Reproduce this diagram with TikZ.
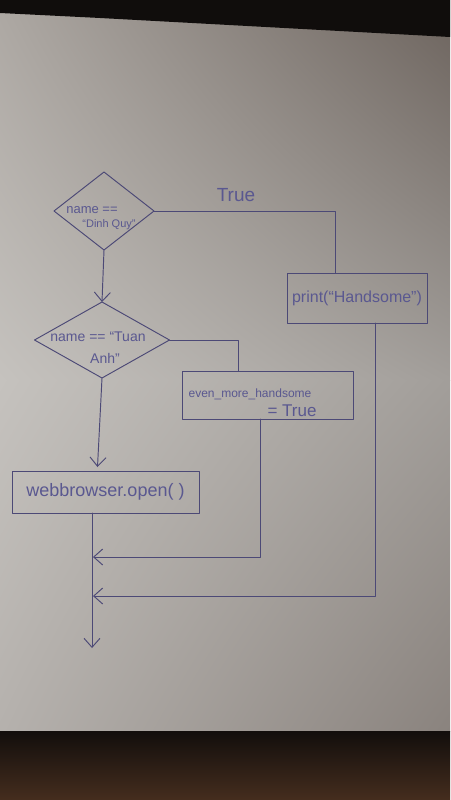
\documentclass[tikz,border=0pt]{standalone}
\usepackage{fontspec}
\setmainfont{Liberation Sans}
\usetikzlibrary{shapes.geometric,arrows.meta,shadings}
\definecolor{ink}{HTML}{4C4976}
\definecolor{tink}{HTML}{5A5890}
\definecolor{pul}{HTML}{ACA7A2}
\definecolor{pur}{HTML}{6C635D}
\definecolor{pml}{HTML}{C5C2BE}
\definecolor{pmr}{HTML}{A29E9A}
\definecolor{pll}{HTML}{B5B1AD}
\definecolor{plr}{HTML}{8A837E}
\definecolor{tabtop}{HTML}{120E0C}
\definecolor{tabmid}{HTML}{2A1B12}
\definecolor{tabbot}{HTML}{452D1E}
\definecolor{shadow}{HTML}{100D0C}
\begin{document}
\begin{tikzpicture}[x=1pt,y=-1pt,
  line/.style={draw=ink, line width=0.95pt, line cap=round, line join=round},
  arr/.style={line, -{Straight Barb[length=9pt,width=16pt,line width=0.95pt]}},
  decn/.style={line, shape=diamond, inner sep=0pt, outer sep=0pt},
  boxn/.style={line, rectangle, inner sep=0pt, outer sep=0pt},
  txt/.style={text=tink, inner sep=0pt}]
\useasboundingbox (0,0) rectangle (450,800);
% paper
\shade[upper left=pul, upper right=pur, lower left=pml, lower right=pmr] (0,0) rectangle (450,380);
\shade[upper left=pml, upper right=pmr, lower left=pll, lower right=plr] (0,380) rectangle (450,731);
\fill[shadow] (0,0) -- (450,0) -- (450,37) -- (100,18) -- (0,13) -- cycle;
% table
\shade[top color=tabtop, middle color=tabmid, bottom color=tabbot] (0,731) rectangle (450,800);

% decisions
\node[decn, minimum width=100pt, minimum height=78pt] (d1) at (104,211) {};
\node[decn, minimum width=135pt, minimum height=76pt] (d2) at (102,340) {};
% process boxes
\node[boxn, minimum width=140pt, minimum height=50pt] (pr) at (357,298) {};
\node[boxn, minimum width=171pt, minimum height=48pt] (ev) at (267.5,395) {};
\node[boxn, minimum width=187pt, minimum height=42pt] (wb) at (105.5,492) {};

% texts
\node[txt, font=\fontsize{13}{15}\selectfont] (d1t1) at (92,210) {name ==};
\node[txt, font=\fontsize{11}{13}\selectfont] (d1t2) at (109,225) {“Dinh Quy”};
\node[txt, font=\fontsize{14}{16}\selectfont] (d2t1) at (98,337) {name == “Tuan};
\node[txt, font=\fontsize{14}{16}\selectfont] (d2t2) at (105,358) {Anh”};
\node[txt, font=\fontsize{16}{18}\selectfont] (prt) at (pr.center) {print(“Handsome”)};
\node[txt, font=\fontsize{12}{14}\selectfont] (evt1) at (250,394) {even\_more\_handsome};
\node[txt, font=\fontsize{17}{19}\selectfont] (evt2) at (292,411) {= True};
\node[txt, font=\fontsize{18}{20}\selectfont] (wbt) at (wb.center) {webbrowser.open( )};
\node[txt, font=\fontsize{19}{21}\selectfont] (truel) at (236,195) {True};

% connector points
\coordinate (m1) at (93,557);
\coordinate (m2) at (93,596);
\coordinate (endc) at (92,648);

% connectors
\draw[line] (d1.east) -| ([xshift=-22pt]pr.north);
\draw[arr] (d1.south) -- (d2.north);
\draw[line] (d2.east) -| ([xshift=-29.5pt]ev.north);
\draw[arr] (d2.south) -- ([xshift=-8pt,yshift=4pt]wb.north);
\draw[arr] ([xshift=-13.5pt]wb.south) -- (endc);
\draw[arr] ([xshift=-7pt]ev.south) |- (m1);
\draw[arr] ([xshift=18pt]pr.south) |- (m2);
\end{tikzpicture}
\end{document}
